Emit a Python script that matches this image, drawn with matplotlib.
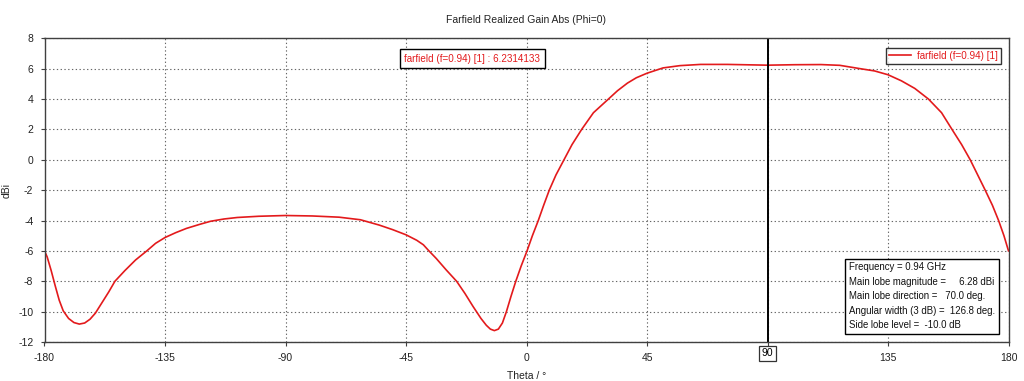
import matplotlib
matplotlib.use("Agg")
import matplotlib.pyplot as plt

theta = [-180, -179, -177.5, -176, -174.5, -173, -171, -169, -167, -165, -163, -161,
         -158.5, -156, -153.7, -150, -146, -141.8, -138.5, -135, -131, -127, -122, -118,
         -113, -108, -100, -90, -80, -70, -62, -55, -50, -45, -41, -38.5, -36.7, -33.7,
         -30, -26.1, -23, -20, -17, -15, -13.5, -12, -10.5, -9, -7.5, -5.8, -4.0, -2,
         0.2, 2.2, 4.4, 6.4, 8.5, 11, 14, 17, 20.6, 25, 30.6, 34, 37.7, 41, 45, 51, 57.3,
         65, 75, 90, 100, 110, 117, 124.6, 130, 135, 140, 145, 150.1, 155, 158.9, 162.5,
         165.7, 168.5, 171.3, 174, 176.3, 178.3, 180]
gain = [-6.0, -6.4, -7.3, -8.3, -9.25, -9.95, -10.45, -10.72, -10.82, -10.75, -10.5, -10.1,
        -9.4, -8.7, -8.0, -7.3, -6.6, -6.0, -5.5, -5.12, -4.8, -4.52, -4.25, -4.05,
        -3.9, -3.8, -3.72, -3.67, -3.7, -3.78, -3.95, -4.3, -4.6, -4.94, -5.3, -5.6, -5.95,
        -6.5, -7.25, -8.0, -8.8, -9.65, -10.45, -10.9, -11.15, -11.25, -11.15, -10.75,
        -10.0, -9.0, -8.0, -7.0, -6.0, -5.0, -4.0, -3.0, -2.0, -1.0, 0.0, 1.0, 2.0, 3.1,
        4.0, 4.55, 5.05, 5.4, 5.7, 6.05, 6.2, 6.28, 6.28, 6.23, 6.26, 6.27, 6.22, 6.0,
        5.85, 5.6, 5.2, 4.7, 4.0, 3.1, 2.0, 1.0, 0.0, -1.0, -2.0, -3.0, -4.0, -5.0, -6.0]

xticks = [-180, -135, -90, -45, 0, 45, 90, 135, 180]
xtick_labels = ["-180", "-135", "-90", "-45", "0", "45", "", "135", "180"]
yticks = [-12, -10, -8, -6, -4, -2, 0, 2, 4, 6, 8]
marker_theta = 90
marker_value = 6.2314133
series_label = "farfield (f=0.94) [1]"
info_lines = ["Frequency = 0.94 GHz",
              "Main lobe magnitude =     6.28 dBi",
              "Main lobe direction =   70.0 deg.",
              "Angular width (3 dB) =  126.8 deg.",
              "Side lobe level =  -10.0 dB"]

plt.rcParams['font.family'] = ['Liberation Sans', 'DejaVu Sans']
plt.rcParams['axes.unicode_minus'] = False
red = "#e31a1c"
edge = "#404040"
fs = 7.5

fig = plt.figure(figsize=(10.24, 3.81), dpi=100)
ax = fig.add_axes([44.5/1024, 1-342/381, 964/1024, (342-38.3)/381])
ax.plot(theta, gain, color=red, lw=1.2, label=series_label)
ax.set_xlim(-180, 180)
ax.set_ylim(-12, 8)
ax.set_xticks(xticks)
ax.set_xticklabels(xtick_labels)
ax.set_yticks(yticks)
ax.tick_params(labelsize=fs, length=3, color=edge, pad=5, labelcolor="#222222")
ax.grid(True, color="#666666", linestyle=(0, (1.2, 2.2)), lw=0.8)
for s in ax.spines.values():
    s.set_color(edge)
    s.set_linewidth(1.0)
ax.set_title("Farfield Realized Gain Abs (Phi=0)", fontsize=fs, pad=11, color="#222222")
ax.set_xlabel("Theta / °", fontsize=fs, labelpad=6, color="#222222")
ax.set_ylabel("dBi", fontsize=fs, color="#222222")
ax.yaxis.set_label_coords(-0.0337, 0.5)

ax.axvline(marker_theta, color="black", lw=1.4)
ax.text(marker_theta, -12.75, str(marker_theta), ha="center", va="center", fontsize=fs,
        transform=ax.transData, clip_on=False,
        bbox=dict(boxstyle="square,pad=0.25", fc="white", ec="#333333", lw=0.9))

ax.text(-20.3, 6.65, f"farfield (f=0.94) [1] : {marker_value:.7f}", ha="center", va="center",
        fontsize=7.1, color=red,
        bbox=dict(boxstyle="square,pad=0.45", fc="white", ec="black", lw=1.0))

leg = ax.legend(loc="upper right", fontsize=7.1, frameon=True, fancybox=False,
                borderpad=0.3, handlelength=2.3, handletextpad=0.6,
                bbox_to_anchor=(0.9975, 0.985))
leg.get_frame().set_edgecolor("black")
leg.get_frame().set_linewidth(1.0)
for t in leg.get_texts():
    t.set_color(red)

ax.text(0.8345, 0.262, "\n".join(info_lines), transform=ax.transAxes, ha="left", va="top",
        fontsize=6.9, linespacing=1.55, color="#111111",
        bbox=dict(boxstyle="square,pad=0.4", fc="white", ec="black", lw=1.0))

fig.savefig("out.png", dpi=100)
